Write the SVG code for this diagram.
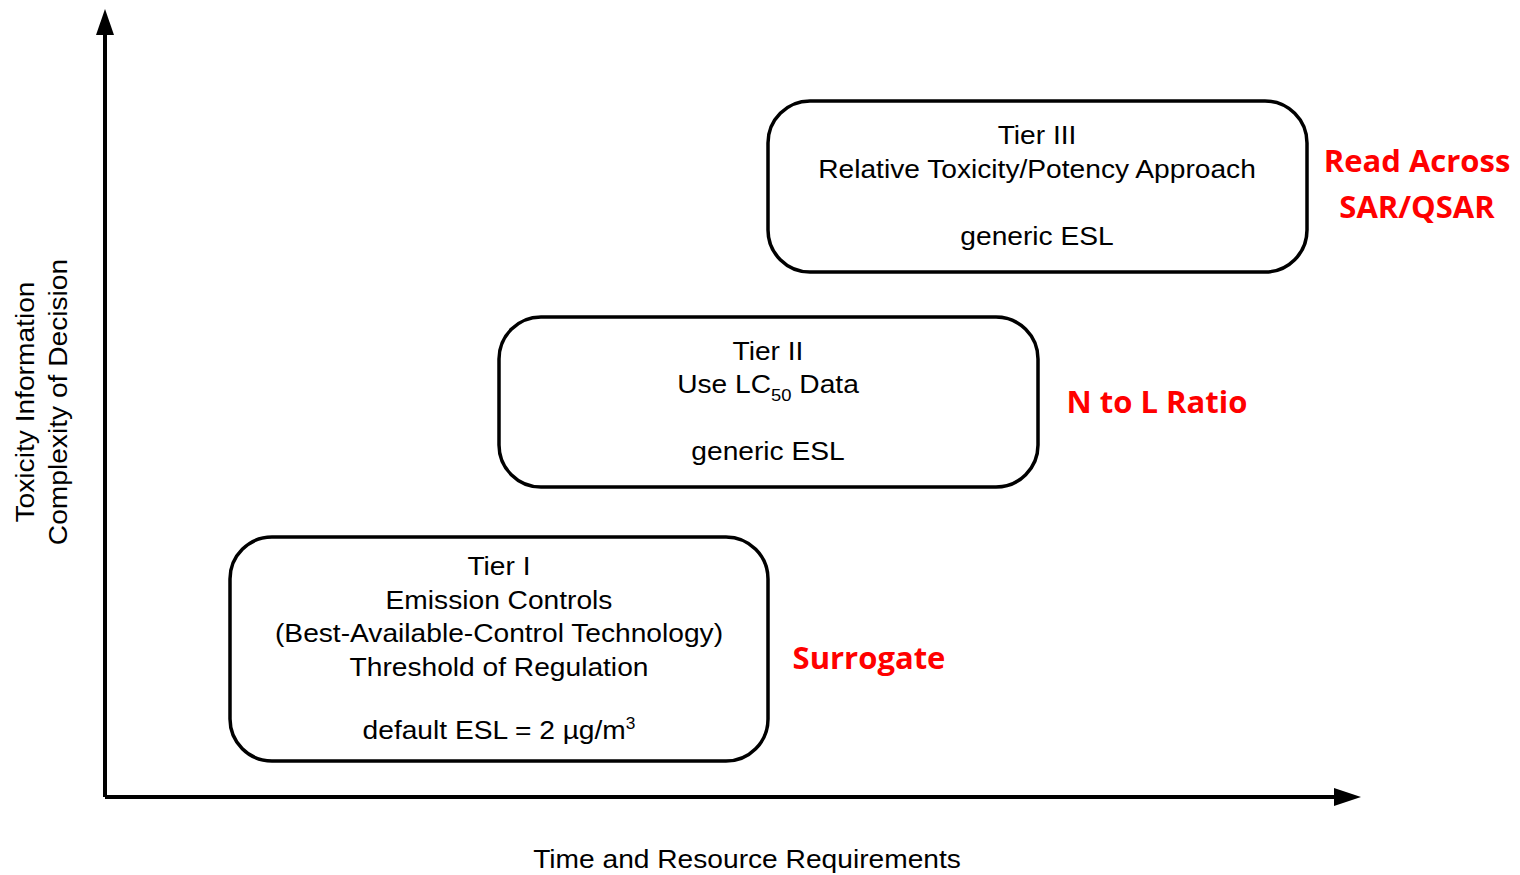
<svg xmlns="http://www.w3.org/2000/svg" width="1520" height="875" viewBox="0 0 1520 875">
<style>
.box{fill:#fff;stroke:#000;stroke-width:3.5}
.t{font-family:"Liberation Sans",Arial,sans-serif;font-size:26px;fill:#000;text-anchor:middle}
.r{font-family:"Open Sans","Noto Sans",sans-serif;font-weight:bold;font-size:31px;fill:#ff0000;text-anchor:middle}
.ax{stroke:#000;stroke-width:4;fill:none}
</style>
<rect width="1520" height="875" fill="#fff"/>
<g id="axes">
<line class="ax" x1="105" y1="797" x2="105" y2="30"/>
<polygon points="105,9 96,35 114,35" fill="#000"/>
<line class="ax" x1="105" y1="797" x2="1338" y2="797"/>
<polygon points="1361,797 1334,788 1334,806" fill="#000"/>
<text class="t" transform="translate(747,868) scale(1.083,1)">Time and Resource Requirements</text>
<text class="t" transform="translate(34,402) rotate(-90) scale(1.083,1)">Toxicity Information</text>
<text class="t" transform="translate(67,402) rotate(-90) scale(1.083,1)">Complexity of Decision</text>
</g>
<g id="tier3">
<rect class="box" x="768" y="101" width="539" height="171" rx="42"/>
<text class="t" transform="translate(1037,144) scale(1.083,1)">Tier III</text>
<text class="t" transform="translate(1037,178) scale(1.083,1)">Relative Toxicity/Potency Approach</text>
<text class="t" transform="translate(1037,245) scale(1.083,1)">generic ESL</text>
</g>
<g id="tier2">
<rect class="box" x="499" y="317" width="539" height="170" rx="42"/>
<text class="t" transform="translate(768,360) scale(1.083,1)">Tier II</text>
<text class="t" transform="translate(768,393) scale(1.083,1)">Use LC<tspan font-size="17" dy="8">50</tspan><tspan dy="-8"> Data</tspan></text>
<text class="t" transform="translate(768,460) scale(1.083,1)">generic ESL</text>
</g>
<g id="tier1">
<rect class="box" x="230" y="537" width="538" height="224" rx="42"/>
<text class="t" transform="translate(499,575) scale(1.083,1)">Tier I</text>
<text class="t" transform="translate(499,609) scale(1.083,1)">Emission Controls</text>
<text class="t" transform="translate(499,642) scale(1.083,1)">(Best-Available-Control Technology)</text>
<text class="t" transform="translate(499,676) scale(1.083,1)">Threshold of Regulation</text>
<text class="t" transform="translate(499,739) scale(1.083,1)">default ESL = 2 µg/m<tspan font-size="16" dy="-10">3</tspan></text>
</g>
<g id="labels">
<text class="r" x="1417" y="172">Read Across</text>
<text class="r" x="1417" y="218">SAR/QSAR</text>
<text class="r" x="1157" y="413">N to L Ratio</text>
<text class="r" x="869" y="669">Surrogate</text>
</g>
</svg>
